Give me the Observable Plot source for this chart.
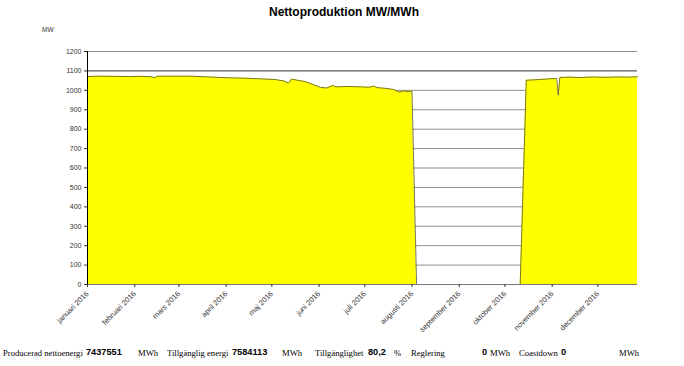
<!DOCTYPE html>
<html><head><meta charset="utf-8">
<script src="https://cdn.jsdelivr.net/npm/d3@7"></script>
<script src="https://cdn.jsdelivr.net/npm/@observablehq/plot@0.6"></script>
<style>
body{margin:0;background:#fff;}
#wrap{position:relative;width:684px;height:366px;overflow:hidden;font-family:"Liberation Sans",Arial,sans-serif;background:#fff;}
#chart{position:absolute;left:0;top:0;}
#title{position:absolute;left:0;width:688px;top:5px;text-align:center;font-weight:bold;font-size:12px;color:#000;}
#unit{position:absolute;left:42px;top:26px;font-size:6.5px;color:#333;}
.s{position:absolute;top:347px;white-space:nowrap;color:#000;}
.l{font-family:"Liberation Serif","Times New Roman",serif;font-size:8.6px;top:348px;}
.n{font-family:"Liberation Sans",Arial,sans-serif;font-weight:bold;font-size:9.2px;}
</style></head>
<body><div id="wrap"><div id="chart"></div><div id="title">Nettoproduktion MW/MWh</div><div id="unit">MW</div></div>
<script>
const dates = ["2016-01-01","2016-01-08","2016-01-18","2016-01-28","2016-02-06","2016-02-12","2016-02-14","2016-02-16","2016-02-28","2016-03-09","2016-03-18","2016-03-28","2016-04-06","2016-04-15","2016-04-24","2016-05-03","2016-05-09","2016-05-12","2016-05-14","2016-05-17","2016-05-23","2016-05-28","2016-06-02","2016-06-06","2016-06-10","2016-06-12","2016-06-20","2016-06-28","2016-07-04","2016-07-07","2016-07-09","2016-07-15","2016-07-20","2016-07-24","2016-07-26","2016-07-29","2016-08-01","2016-08-04","2016-10-11","2016-10-15","2016-10-20","2016-10-26","2016-10-31","2016-11-04","2016-11-05","2016-11-06","2016-11-12","2016-11-20","2016-11-28","2016-12-06","2016-12-14","2016-12-20","2016-12-27"];
const values = [1071,1073,1072,1071,1072,1070,1065,1073,1073,1073,1070,1066,1064,1062,1059,1056,1048,1038,1058,1053,1045,1030,1015,1012,1025,1018,1020,1018,1016,1022,1014,1010,1004,990,997,994,996,0,0,1052,1054,1057,1060,1061,975,1066,1068,1066,1069,1067,1069,1068,1070];
const monthNames = ["januari 2016","februari 2016","mars 2016","april 2016","maj 2016","juni 2016","juli 2016","augusti 2016","september 2016","oktober 2016","november 2016","december 2016"];
const yTicks = [0,100,200,300,400,500,600,700,800,900,1000,1100,1200];
const refLine = [1100];
const statLabels = ["Producerad nettoenergi","Tillgänglig energi","Tillgänglighet","Reglering","Coastdown"];
const statValues = ["7437551","7584113","80,2","0","0"];
const statUnits = ["MWh","MWh","%","MWh","MWh"];

const statLayout = [
  {l:3, v:86, u:138},
  {l:167, v:232, u:282},
  {l:315, v:368, u:394},
  {l:411, v:482, u:490},
  {l:519, v:561, u:619}
];

const data = dates.map((d,i)=>({date:new Date(d+"T00:00:00Z"), value:values[i]}));
const x0 = new Date("2016-01-01T00:00:00Z"), x1 = new Date("2016-12-27T00:00:00Z");
const months = monthNames.map((m,i)=>new Date(Date.UTC(2016,i,1)));

const chart = Plot.plot({
  width:684, height:340, marginLeft:87, marginRight:47, marginTop:51, marginBottom:56,
  style:{fontFamily:"Liberation Sans, Arial, sans-serif", fontSize:"7px", color:"#333", background:"#fff", overflow:"visible"},
  x:{type:"utc", domain:[x0,x1]},
  y:{domain:[0,1200]},
  marks:[
    Plot.ruleY(yTicks.filter(v=>v>0 && !refLine.includes(v)), {stroke:"#8c8c8c", strokeWidth:1}),
    Plot.ruleY(refLine, {stroke:"#333", strokeWidth:1}),
    Plot.areaY(data, {x:"date", y:"value", fill:"#ffff00"}),
    Plot.lineY(data, {x:"date", y:"value", stroke:"#55552a", strokeWidth:0.8}),
    Plot.ruleY([0], {stroke:"#777"}),
    Plot.ruleX([x0], {stroke:"#000"}),
    Plot.axisY({ticks:yTicks, tickSize:3, tickPadding:3, label:null, tickFormat:d=>String(d)}),
    Plot.axisX({ticks:months, tickSize:3, tickPadding:5, tickRotate:-45, fontSize:7.5, tickFormat:d=>monthNames[d.getUTCMonth()], label:null})
  ]
});
document.getElementById("chart").appendChild(chart);

const wrap = document.getElementById("wrap");
statLabels.forEach((lab,i)=>{
  const L = statLayout[i];
  const a = document.createElement("span"); a.className="s l"; a.style.left=L.l+"px"; a.textContent=lab; wrap.appendChild(a);
  const b = document.createElement("span"); b.className="s n"; b.style.left=L.v+"px"; b.textContent=statValues[i]; wrap.appendChild(b);
  const c = document.createElement("span"); c.className="s l"; c.style.left=L.u+"px"; c.textContent=statUnits[i]; wrap.appendChild(c);
});
</script>
</body></html>
